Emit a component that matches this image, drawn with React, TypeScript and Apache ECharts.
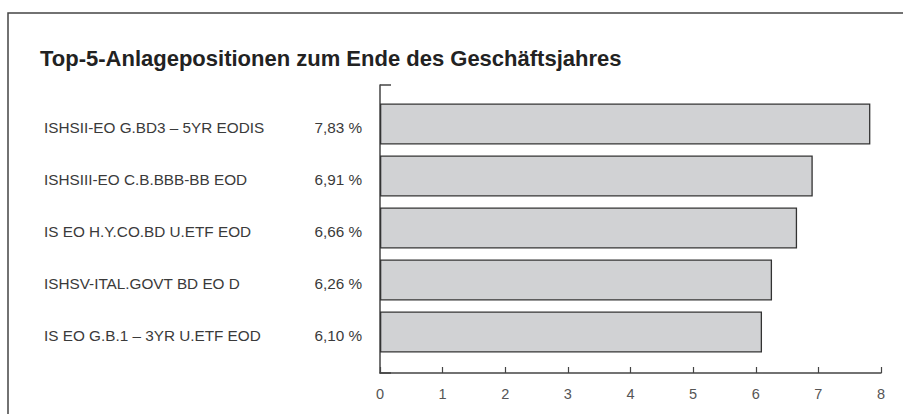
import React, { useEffect, useRef } from "react";
import * as echarts from "echarts";

const titleText = "Top-5-Anlagepositionen zum Ende des Geschäftsjahres";
const categories = [
  "ISHSII-EO G.BD3 – 5YR EODIS",
  "ISHSIII-EO C.B.BBB-BB EOD",
  "IS EO H.Y.CO.BD U.ETF EOD",
  "ISHSV-ITAL.GOVT BD EO D",
  "IS EO G.B.1 – 3YR U.ETF EOD",
];
const values = [7.83, 6.91, 6.66, 6.26, 6.1];
const xTicks = [0, 1, 2, 3, 4, 5, 6, 7, 8];

const fmt = (v: number) => v.toFixed(2).replace(".", ",") + " %";

export default function App() {
  const ref = useRef<HTMLDivElement>(null);
  useEffect(() => {
    if (!ref.current) return;
    const chart = echarts.init(ref.current, null, { renderer: "svg" });
    const font = "'Liberation Sans', Arial, sans-serif";
    chart.setOption({
      animation: false,
      backgroundColor: "#fff",
      textStyle: { fontFamily: font },
      title: {
        text: titleText,
        left: 35,
        top: 42,
        textStyle: { fontSize: 22, fontWeight: "bold", color: "#222", fontFamily: font },
      },
      graphic: [
        {
          type: "polyline",
          shape: { points: [[8, 420], [8, 13], [910, 13]] },
          style: { stroke: "#444", lineWidth: 1.5, fill: "none" },
          silent: true,
        },
      ],
      grid: [
        { left: 380, right: 22, top: 98, bottom: 56 },
        { left: 380, right: 22, top: 85, bottom: 41 },
      ],
      xAxis: [
        { type: "value", gridIndex: 0, min: 0, max: 8, interval: 1, show: false },
        {
          type: "value",
          gridIndex: 1,
          min: xTicks[0],
          max: xTicks[xTicks.length - 1],
          interval: 1,
          axisLine: { show: true, lineStyle: { color: "#444", width: 1.5 } },
          axisTick: { show: true, inside: true, length: 6, lineStyle: { color: "#444", width: 1.2 } },
          axisLabel: { show: true, margin: 13, fontSize: 14.5, color: "#555", fontFamily: font },
          splitLine: { show: false },
        },
      ],
      yAxis: [
        {
          type: "category",
          gridIndex: 0,
          data: categories,
          inverse: true,
          axisLine: { show: false },
          axisTick: { show: false },
          axisLabel: {
            margin: 18,
            formatter: (name: string, idx: number) => `{n|${name}}{v|${fmt(values[idx])}}`,
            rich: {
              n: { width: 258, align: "left", fontSize: 15.3, color: "#3a3a3a", fontFamily: font, padding: [6, 0, 0, 0] },
              v: { width: 60, align: "right", fontSize: 15.3, color: "#3a3a3a", fontFamily: font, padding: [6, 0, 0, 0] },
            },
          },
        },
        {
          type: "value",
          gridIndex: 1,
          min: 0,
          max: 1,
          interval: 1,
          axisLine: { show: true, lineStyle: { color: "#444", width: 1.5 } },
          axisTick: { show: true, inside: true, length: 11, lineStyle: { color: "#444", width: 1.5 } },
          axisLabel: { show: false },
          splitLine: { show: false },
        },
      ],
      series: [
        {
          type: "bar",
          xAxisIndex: 0,
          yAxisIndex: 0,
          data: values,
          barWidth: 41,
          itemStyle: { color: "#d1d2d4", borderColor: "#333", borderWidth: 1.3 },
          silent: true,
        },
      ],
    });
    return () => chart.dispose();
  }, []);
  return (
    <div
      ref={ref}
      style={{ position: "absolute", left: 0, top: 0, width: 903, height: 414 }}
    />
  );
}
